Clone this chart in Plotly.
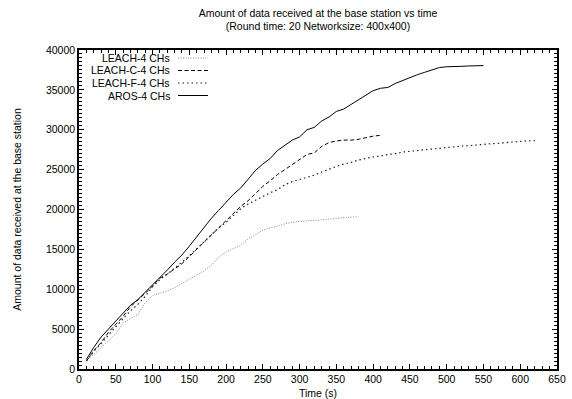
import plotly.graph_objects as go

names = ["LEACH-4 CHs", "LEACH-C-4 CHs", "LEACH-F-4 CHs", "AROS-4 CHs"]

t_leach = list(range(10, 381, 10))
v_leach = [1100, 1800, 2700, 3500, 4400, 5800, 6300, 6800, 8300, 9200,
           9500, 9800, 10200, 10700, 11200, 11700, 12300, 13000, 14000, 14700,
           15100, 15500, 16300, 16900, 17400, 17700, 17900, 18200, 18400, 18500,
           18550, 18650, 18700, 18800, 18900, 19000, 19050, 19100]

t_leach_c = list(range(10, 411, 10))
v_leach_c = [1000, 2300, 3300, 4600, 5600, 6600, 7800, 8600, 9500, 10400,
             11400, 11900, 12500, 13200, 14100, 15000, 15900, 16800, 17700, 18600,
             19400, 20400, 21100, 22000, 22900, 23600, 24400, 25000, 25600, 26200,
             26900, 27100, 27900, 28400, 28600, 28700, 28700, 28800, 29000, 29200,
             29300]

t_leach_f = list(range(10, 621, 10))
v_leach_f = [1000, 2200, 3200, 4300, 5300, 6300, 7300, 8100, 9100, 10300,
             11200, 11900, 12600, 13400, 14200, 15100, 16000, 16900, 17700, 18400,
             19300, 20100, 20700, 21200, 21700, 22100, 22500, 23100, 23500, 23800,
             24000, 24300, 24700, 25100, 25400, 25700, 25900, 26200, 26400, 26600,
             26700, 26900, 27000, 27200, 27300, 27400, 27500, 27600, 27700, 27800,
             27900, 27950, 28000, 28100, 28200, 28250, 28300, 28400, 28450, 28550,
             28600, 28650]

t_aros = list(range(10, 551, 10))
v_aros = [1200, 2700, 4000, 5000, 6000, 7000, 8000, 8700, 9600, 10500,
          11500, 12400, 13400, 14300, 15400, 16600, 17700, 18900, 19900, 20900,
          21900, 22700, 23800, 24900, 25700, 26400, 27400, 28000, 28700, 29100,
          30000, 30300, 31100, 31600, 32300, 32600, 33200, 33700, 34300, 34900,
          35200, 35300, 35800, 36200, 36600, 36900, 37200, 37500, 37800, 37900,
          37900, 37950, 38000, 38000, 38050]

x_minor_ticks = list(range(0, 651, 10))
y_minor_ticks = list(range(0, 40001, 500))

styles = [
    dict(color="#8a8a8a", width=1, dash="1px,1.5px"),
    dict(color="#000000", width=1, dash="4px,2.5px"),
    dict(color="#222222", width=1.2, dash="1.5px,3px"),
    dict(color="#000000", width=1, dash="solid"),
]
series = [(t_leach, v_leach), (t_leach_c, v_leach_c), (t_leach_f, v_leach_f), (t_aros, v_aros)]

fig = go.Figure()
for (t, v), n, s in zip(series, names, styles):
    fig.add_trace(go.Scatter(x=t, y=v, mode="lines", name=n, line=s, showlegend=False))

# invisible traces to activate tick-only overlay axes
for xa, ya in [("x2", "y2"), ("x3", "y3"), ("x4", "y4")]:
    fig.add_trace(go.Scatter(x=[None], y=[None], xaxis=xa, yaxis=ya, showlegend=False,
                             hoverinfo="skip"))

# custom gnuplot-style legend
L, R, T, B = 79, 557, 50, 369
rows = [58, 70.5, 83, 95.5]
annotations = []
shapes = []
for n, s, py in zip(names, styles, rows):
    yp = (B - py) / (B - T)
    annotations.append(dict(x=(172 - L) / (R - L), y=yp, xref="paper", yref="paper",
                            text=n, showarrow=False, xanchor="right", yanchor="middle",
                            font=dict(size=10.5, color="#000")))
    shapes.append(dict(type="line", xref="paper", yref="paper",
                       x0=(178 - L) / (R - L), x1=(208 - L) / (R - L), y0=yp, y1=yp,
                       line=s))

fig.update_layout(
    width=572, height=399,
    margin=dict(l=L, r=572 - R, t=T, b=399 - B, autoexpand=False),
    paper_bgcolor="white", plot_bgcolor="white",
    font=dict(family="Liberation Sans, Arial, sans-serif", size=10.5, color="#000"),
    title=dict(text="Amount of data received at the base station vs time<br>(Round time: 20 Networksize: 400x400)",
               x=(L + R) / 2 / 572, xanchor="center", y=0.958, yanchor="top",
               font=dict(size=10.5)),
    annotations=annotations,
    shapes=shapes,
)

base = dict(ticks="inside", tickwidth=1, tickcolor="#000", showgrid=False, zeroline=False,
            automargin=False)
XR = [0, 650]
YR = [0, 40000]

fig.update_layout(
    xaxis=dict(range=XR, dtick=50, tick0=0, tickformat="d", ticklen=5,
               showline=True, linecolor="#000", linewidth=1.5, mirror=True,
               title=dict(text="Time (s)", standoff=10, font=dict(size=10.5)),
               tickfont=dict(size=10.5), **base),
    yaxis=dict(range=YR, dtick=5000, tick0=0, tickformat="d", ticklen=5,
               showline=True, linecolor="#000", linewidth=1.5, mirror=True,
               title=dict(text="Amount of data received at the base station", standoff=22, font=dict(size=10.5)),
               tickfont=dict(size=10.5), **base),
    # top major ticks / right major ticks
    xaxis2=dict(range=XR, dtick=50, tick0=0, ticklen=5, overlaying="x", side="top", anchor="y2",
                showticklabels=False, **base),
    yaxis2=dict(range=YR, dtick=5000, tick0=0, ticklen=5, overlaying="y", side="right", anchor="x2",
                showticklabels=False, **base),
    # bottom/left minor ticks
    xaxis3=dict(range=XR, tickvals=x_minor_ticks, ticklen=3, overlaying="x", side="bottom", anchor="y3",
                showticklabels=False, **base),
    yaxis3=dict(range=YR, tickvals=y_minor_ticks, ticklen=3, overlaying="y", side="left", anchor="x3",
                showticklabels=False, **base),
    # top/right minor ticks
    xaxis4=dict(range=XR, tickvals=x_minor_ticks, ticklen=3, overlaying="x", side="top", anchor="y4",
                showticklabels=False, **base),
    yaxis4=dict(range=YR, tickvals=y_minor_ticks, ticklen=3, overlaying="y", side="right", anchor="x4",
                showticklabels=False, **base),
)

fig.write_html("out.html")
